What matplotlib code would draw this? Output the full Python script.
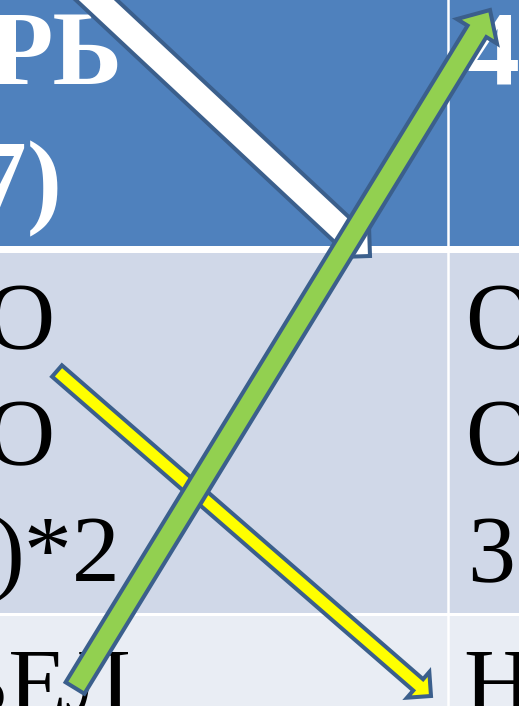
import matplotlib.pyplot as plt
from matplotlib.patches import Rectangle, FancyArrow

# --- table rows (top, bottom, colour) in pixels ---
row_tops = [0, 253, 616]
row_bottoms = [246, 613, 706]
row_colors = ['#4F81BD', '#D0D8E8', '#E9EDF4']
col_divider = 448

# --- cell texts (left column is cut by the crop, right column starts at x~466) ---
left_texts = ['РЬ', '7)', 'О', 'О', ')*2', 'БЕЛ']
left_x = [122, 62, 54, 54, 121, 131]
left_y = [84, 214, 349, 465, 582, 715]

right_texts = ['4', 'О', 'О', '31', 'Н']
right_x = [466, 465, 465, 467, 463]
right_y = [84, 349, 465, 582, 714]

header_rows = [True, True, False, False, False, False]
header_rows_r = [True, False, False, False, False]

# --- arrows: tail (x, y), tip (x, y), shaft width, head width, head length ---
arrow_names = ['white', 'yellow', 'green']
arrow_tail = [(-2, -92), (57, 371), (75, 688)]
arrow_tip = [(370, 256), (431, 696), (490, 10)]
arrow_width = [28, 15, 22]
arrow_head_w = [58, 34, 47]
arrow_head_l = [29, 17, 25]
arrow_fill = ['#FFFFFF', '#FFFF00', '#92D050']
outline = '#3B5F8C'


def main():
    fig = plt.figure(figsize=(5.19, 7.06), dpi=100)
    ax = fig.add_axes([0, 0, 1, 1])
    ax.set_xlim(0, 519)
    ax.set_ylim(706, 0)
    ax.axis('off')
    fig.patch.set_facecolor('white')

    # table background
    for top, bottom, color in zip(row_tops, row_bottoms, row_colors):
        ax.add_patch(Rectangle((0, top), 519, bottom - top, facecolor=color,
                               edgecolor='none', zorder=0))
    ax.axvline(col_divider, color='white', lw=1.8, zorder=1)

    # text in the cells
    for txt, x, y, hdr in zip(left_texts, left_x, left_y, header_rows):
        ax.text(x, y, txt, ha='right', va='baseline',
                family='Liberation Serif',
                fontsize=76 if hdr else 69,
                fontweight='bold' if hdr else 'normal',
                color='white' if hdr else 'black', zorder=2)
    for txt, x, y, hdr in zip(right_texts, right_x, right_y, header_rows_r):
        ax.text(x, y, txt, ha='left', va='baseline',
                family='Liberation Serif',
                fontsize=76 if hdr else 69,
                fontweight='bold' if hdr else 'normal',
                color='white' if hdr else 'black', zorder=2)

    # arrows on top (green last so it covers the others)
    for i, name in enumerate(arrow_names):
        (x0, y0), (x1, y1) = arrow_tail[i], arrow_tip[i]
        arr = FancyArrow(x0, y0, x1 - x0, y1 - y0, width=arrow_width[i],
                         head_width=arrow_head_w[i], head_length=arrow_head_l[i],
                         length_includes_head=True, facecolor=arrow_fill[i],
                         edgecolor=outline, linewidth=2.9, joinstyle='miter',
                         zorder=3 + i)
        ax.add_patch(arr)

    fig.savefig('out.png', dpi=100)
    plt.close(fig)


if __name__ == '__main__':
    main()
